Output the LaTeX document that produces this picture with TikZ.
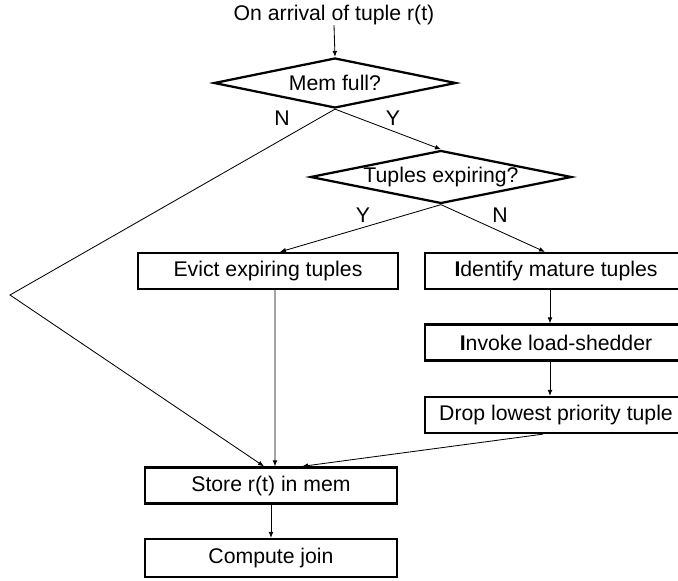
\documentclass[tikz,border=0pt]{standalone}
\usepackage{fontspec}
\setmainfont{Liberation Sans}
\usepackage{tikz}
\usetikzlibrary{shapes.geometric,arrows.meta}

\begin{document}
\begin{tikzpicture}[x=0.025cm, y=-0.025cm,
  font=\fontsize{15.1pt}{18pt}\selectfont,
  box/.style = {draw, line width=1.6pt, rectangle, inner sep=0pt, minimum height=0.9cm},
  decision/.style = {draw, line width=1.6pt, diamond, aspect=5, inner sep=0pt},
  conn/.style = {line width=0.6pt, -{Latex[length=1.5mm,width=1.2mm]}},
  lbl/.style = {inner sep=0pt}]
  \clip (0,0) rectangle (678,580);
  \node[lbl] (start) at (334,15) {On arrival of tuple r(t)};
  \node[decision, minimum width=6.05cm, minimum height=1.25cm] (mem) at (335,83) {Mem full?};
  \node[decision, minimum width=6.525cm, minimum height=1.325cm] (exp) at (441,177) {Tuples expiring?};
  \node[box, minimum width=6.5cm] (evict) at (268,271) {Evict expiring tuples};
  \node[box, minimum width=6.55cm] (identify) at (556,271) {\textbf{I}dentify mature tuples};
  \node[box, minimum width=6.55cm] (invoke) at (556,342.5) {\textbf{I}nvoke load-shedder};
  \node[box, minimum width=6.55cm] (drop) at (556,415) {Drop lowest priority tuple};
  \node[box, minimum width=6.3cm] (store) at (271,485.5) {Store r(t) in mem};
  \node[box, minimum width=6.3cm, minimum height=0.95cm] (join) at (271,558) {Compute join};
  \coordinate (bend) at (10,295);
  % branch labels
  \node[lbl] (n1) at (282,118) {N};
  \node[lbl] (y1) at (393,118) {Y};
  \node[lbl] (y2) at (363,215) {Y};
  \node[lbl] (n2) at (500,215) {N};
  % connectors
  \draw[conn] (start.south) -- (mem.north);
  \draw[conn] (mem.south) -- (bend) -- ([xshift=-0.175cm]store.north);
  \draw[conn] (mem.south) -- (exp.north);
  \draw[conn] (exp.south) -- ([xshift=0.3cm]evict.north);
  \draw[conn] (exp.south) -- ([xshift=-0.275cm]identify.north);
  \draw[conn] ([xshift=0.175cm]evict.south) -- ([xshift=0.1cm]store.north);
  \draw[conn] ([xshift=-0.15cm]identify.south) -- ([xshift=-0.15cm]invoke.north);
  \draw[conn] ([xshift=-0.15cm]invoke.south) -- ([xshift=-0.15cm]drop.north);
  \draw[conn] ([xshift=-0.325cm]drop.south) -- ([xshift=0.775cm]store.north);
  \draw[conn] (store) -- (join);
\end{tikzpicture}
\end{document}
